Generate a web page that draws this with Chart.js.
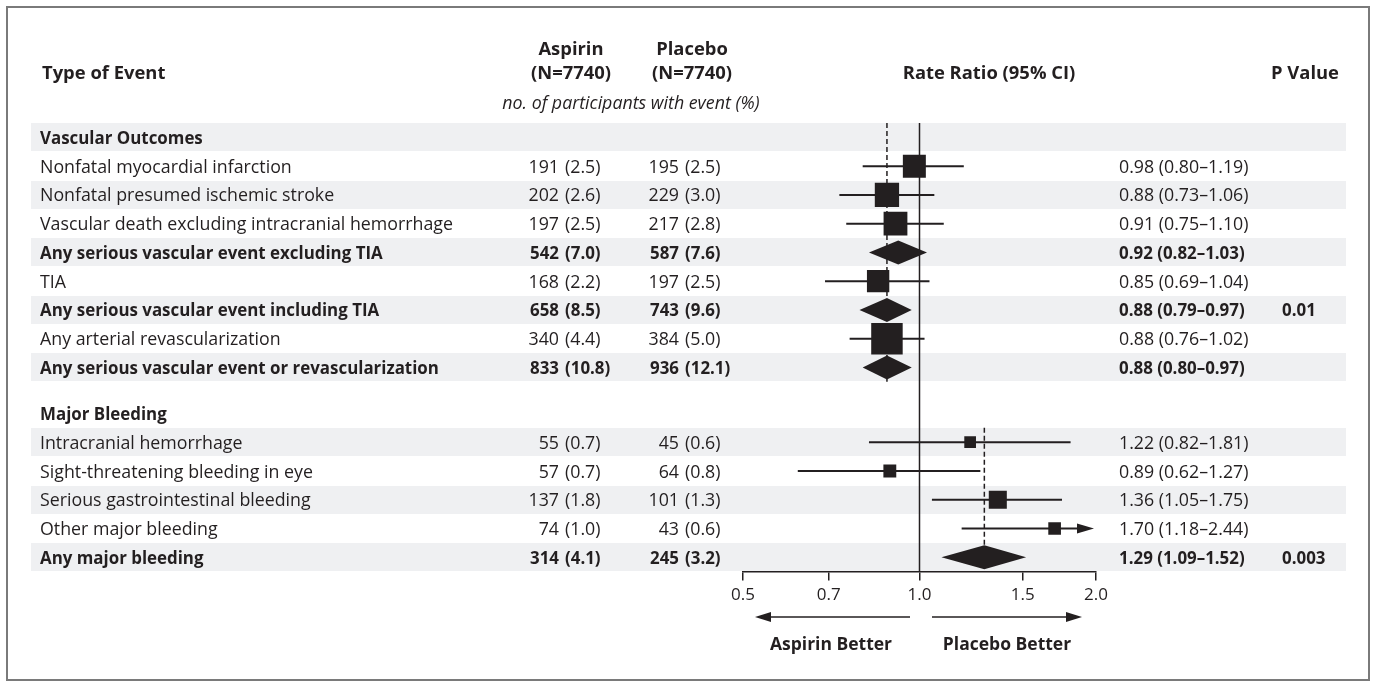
<!DOCTYPE html>
<html>
<head>
<meta charset="utf-8">
<script src="https://cdn.jsdelivr.net/npm/chart.js@4/dist/chart.umd.min.js"></script>
<style>
  html, body { margin: 0; padding: 0; background: #ffffff; }
  #wrap { position: relative; width: 1373px; height: 682px; }
</style>
</head>
<body>
<div id="wrap"><canvas id="c"></canvas></div>
<script>
// ---------------- DATA ----------------
const events = [
  'Vascular Outcomes',
  'Nonfatal myocardial infarction',
  'Nonfatal presumed ischemic stroke',
  'Vascular death excluding intracranial hemorrhage',
  'Any serious vascular event excluding TIA',
  'TIA',
  'Any serious vascular event including TIA',
  'Any arterial revascularization',
  'Any serious vascular event or revascularization',
  'Major Bleeding',
  'Intracranial hemorrhage',
  'Sight-threatening bleeding in eye',
  'Serious gastrointestinal bleeding',
  'Other major bleeding',
  'Any major bleeding'
];
const rowKinds = ['header','item','item','item','summary','item','summary','item','summary',
                  'header','item','item','item','item','summary'];
const sections = [0,0,0,0,0,0,0,0,0,1,1,1,1,1,1];
const aspirinN   = [null,191,202,197,542,168,658,340,833,null,55,57,137,74,314];
const aspirinPct = [null,2.5,2.6,2.5,7.0,2.2,8.5,4.4,10.8,null,0.7,0.7,1.8,1.0,4.1];
const placeboN   = [null,195,229,217,587,197,743,384,936,null,45,64,101,43,245];
const placeboPct = [null,2.5,3.0,2.8,7.6,2.5,9.6,5.0,12.1,null,0.6,0.8,1.3,0.6,3.2];
const rateRatio  = [null,0.98,0.88,0.91,0.92,0.85,0.88,0.88,0.88,null,1.22,0.89,1.36,1.70,1.29];
const ciLow      = [null,0.80,0.73,0.75,0.82,0.69,0.79,0.76,0.80,null,0.82,0.62,1.05,1.18,1.09];
const ciHigh     = [null,1.19,1.06,1.10,1.03,1.04,0.97,1.02,0.97,null,1.81,1.27,1.75,2.44,1.52];
const pValues    = ['','','','','','','0.01','','','','','','','','0.003'];
const sectionRef = [0.88, 1.29];
const xTicks = [0.5, 0.7, 1.0, 1.5, 2.0];
const groupLabels = { aspirin: 'Aspirin', placebo: 'Placebo', n: '(N=7740)' };

// ---------------- STYLE / LAYOUT ----------------
const FONT = '"Open Sans", "Noto Sans", sans-serif';
const FS = 17.8;
const BFS = 16.9;
const HFS = 18.4;
const INK = '#231f20';
const STRIPE = '#eff0f2';
const SECTION_GAP = 0.6;
const TEXT_DY = 1.5;

function slotOf(i) { return i + (sections[i] > 0 ? SECTION_GAP : 0); }

const squarePoints = [];
const squareRadii = [];
events.forEach((e, i) => {
  if (rowKinds[i] === 'item') {
    squarePoints.push({ x: rateRatio[i], y: slotOf(i) });
    const side = 1.17 * Math.sqrt(aspirinN[i] + placeboN[i]);
    squareRadii.push(side / Math.SQRT2);
  }
});

function font(w, s, style) { return (style || '') + ' ' + (w || 'normal') + ' ' + (s || FS) + 'px ' + FONT; }

const forestPlugin = {
  id: 'forest',
  beforeDraw(chart) {
    const ctx = chart.ctx, ys = chart.scales.y;
    ctx.save();
    ctx.fillStyle = '#ffffff';
    ctx.fillRect(0, 0, chart.width, chart.height);
    ctx.strokeStyle = '#7a7a7a';
    ctx.lineWidth = 2;
    ctx.strokeRect(7, 7, 1362, 673);
    ctx.fillStyle = STRIPE;
    events.forEach((e, i) => {
      if (i % 2 === 0) {
        const y = ys.getPixelForValue(slotOf(i));
        ctx.fillRect(31, Math.round(y - 14), 1315, 28);
      }
    });
    ctx.restore();
  },
  beforeDatasetsDraw(chart) {
    const ctx = chart.ctx, xs = chart.scales.x, ys = chart.scales.y, ca = chart.chartArea;
    ctx.save();
    ctx.strokeStyle = INK;
    ctx.lineWidth = 1.5;
    const x1 = xs.getPixelForValue(1.0);
    ctx.beginPath(); ctx.moveTo(x1, ca.top); ctx.lineTo(x1, ca.bottom); ctx.stroke();
    ctx.setLineDash([5, 3]);
    sectionRef.forEach((r, s) => {
      const rows = events.map((e, i) => i).filter(i => sections[i] === s);
      const firstRow = s === 0 ? rows[0] : rows[1];
      const lastRow = rows[rows.length - 1];
      const xr = xs.getPixelForValue(r);
      const yt = ys.getPixelForValue(slotOf(firstRow) - 0.5);
      const yb = s === sectionRef.length - 1 ? ca.bottom : ys.getPixelForValue(slotOf(lastRow) + 0.5);
      ctx.beginPath(); ctx.moveTo(xr, yt); ctx.lineTo(xr, yb); ctx.stroke();
    });
    ctx.setLineDash([]);
    ctx.lineWidth = 2;
    ctx.fillStyle = INK;
    const xmax = xs.max, xmin = xs.min;
    events.forEach((e, i) => {
      if (rowKinds[i] !== 'item') return;
      const y = ys.getPixelForValue(slotOf(i));
      const lo = xs.getPixelForValue(Math.max(ciLow[i], xmin));
      const truncated = ciHigh[i] > xmax;
      const hiPix = xs.getPixelForValue(Math.min(ciHigh[i], xmax));
      const end = truncated ? hiPix - 17 : hiPix;
      ctx.beginPath(); ctx.moveTo(lo, y); ctx.lineTo(end, y); ctx.stroke();
      if (truncated) {
        ctx.beginPath();
        ctx.moveTo(hiPix - 2, y);
        ctx.lineTo(hiPix - 19, y - 5);
        ctx.lineTo(hiPix - 19, y + 5);
        ctx.closePath(); ctx.fill();
      }
    });
    ctx.restore();
  },
  afterDatasetsDraw(chart) {
    const ctx = chart.ctx, xs = chart.scales.x, ys = chart.scales.y;
    ctx.save();
    ctx.fillStyle = INK;
    events.forEach((e, i) => {
      if (rowKinds[i] !== 'summary') return;
      const y = ys.getPixelForValue(slotOf(i));
      const l = xs.getPixelForValue(ciLow[i]), r = xs.getPixelForValue(ciHigh[i]);
      const m = xs.getPixelForValue(rateRatio[i]);
      ctx.beginPath();
      ctx.moveTo(l, y); ctx.lineTo(m, y - 12); ctx.lineTo(r, y); ctx.lineTo(m, y + 12);
      ctx.closePath(); ctx.fill();
    });
    ctx.fillStyle = INK;
    ctx.textBaseline = 'middle';
    ctx.font = font('bold', HFS);
    ctx.textAlign = 'left';
    ctx.fillText('Type of Event', 42, 74);
    ctx.textAlign = 'center';
    ctx.fillText(groupLabels.aspirin, 571, 50);
    ctx.fillText(groupLabels.n, 571, 74);
    ctx.fillText(groupLabels.placebo, 692, 50);
    ctx.fillText(groupLabels.n, 692, 74);
    ctx.fillText('Rate Ratio (95% CI)', 989, 74);
    ctx.fillText('P Value', 1305, 74);
    ctx.font = font('normal', FS, 'italic');
    ctx.fillText('no. of participants with event (%)', 631, 104);
    events.forEach((e, i) => {
      const y = ys.getPixelForValue(slotOf(i)) + TEXT_DY;
      const bold = rowKinds[i] !== 'item';
      ctx.font = bold ? font('bold', BFS) : font('normal', FS);
      ctx.textAlign = 'left';
      ctx.fillText(e, 40, y);
      if (rowKinds[i] === 'header') return;
      ctx.textAlign = 'right';
      ctx.fillText(String(aspirinN[i]), 559, y);
      ctx.fillText(String(placeboN[i]), 679, y);
      ctx.textAlign = 'left';
      ctx.fillText('(' + aspirinPct[i].toFixed(1) + ')', 565, y);
      ctx.fillText('(' + placeboPct[i].toFixed(1) + ')', 685, y);
      ctx.fillText(rateRatio[i].toFixed(2) + ' (' + ciLow[i].toFixed(2) + '\u2013' + ciHigh[i].toFixed(2) + ')', 1119, y);
      if (pValues[i]) ctx.fillText(pValues[i], 1282, y);
    });
    const ya = 617;
    ctx.strokeStyle = INK; ctx.lineWidth = 1.5;
    ctx.beginPath(); ctx.moveTo(910, ya); ctx.lineTo(766, ya); ctx.stroke();
    ctx.beginPath(); ctx.moveTo(755, ya); ctx.lineTo(771, ya - 5); ctx.lineTo(771, ya + 5); ctx.closePath(); ctx.fill();
    ctx.beginPath(); ctx.moveTo(932, ya); ctx.lineTo(1071, ya); ctx.stroke();
    ctx.beginPath(); ctx.moveTo(1082, ya); ctx.lineTo(1066, ya - 5); ctx.lineTo(1066, ya + 5); ctx.closePath(); ctx.fill();
    ctx.font = font('bold', 17.5);
    ctx.textAlign = 'center';
    ctx.fillText('Aspirin Better', 831, 645);
    ctx.fillText('Placebo Better', 1007, 645);
    ctx.restore();
  }
};

new Chart(document.getElementById('c'), {
  type: 'scatter',
  data: {
    datasets: [{
      data: squarePoints,
      pointStyle: 'rect',
      pointRadius: squareRadii,
      pointHoverRadius: squareRadii,
      backgroundColor: INK,
      borderWidth: 0,
      pointBorderWidth: 0
    }]
  },
  options: {
    responsive: true,
    maintainAspectRatio: false,
    animation: false,
    devicePixelRatio: 1,
    layout: { padding: { left: 743, right: 277, top: 123, bottom: 73 } },
    plugins: { legend: { display: false }, tooltip: { enabled: false } },
    scales: {
      x: {
        type: 'logarithmic',
        min: 0.5, max: 2.0,
        afterBuildTicks: (scale) => { scale.ticks = xTicks.map(v => ({ value: v })); },
        ticks: {
          callback: (v) => Number(v).toFixed(1),
          color: INK,
          font: { family: FONT, size: 17 },
          padding: 4,
          maxRotation: 0,
          autoSkip: false
        },
        grid: { display: true, drawOnChartArea: false, drawTicks: true, tickLength: 9, color: INK, lineWidth: 1.5 },
        border: { display: true, color: INK, width: 1.5 }
      },
      y: {
        type: 'linear',
        display: false,
        reverse: true,
        min: -0.5, max: 15.1
      }
    }
  },
  plugins: [forestPlugin]
});
</script>
</body>
</html>
